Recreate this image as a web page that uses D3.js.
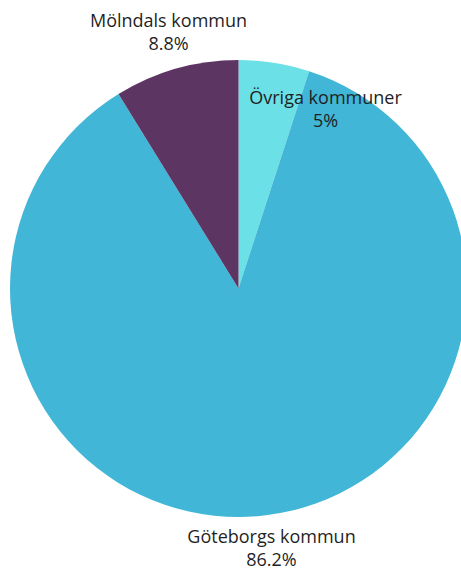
<!DOCTYPE html>
<html>
<head>
<meta charset="utf-8">
<script src="https://cdn.jsdelivr.net/npm/d3@7"></script>
<style>
  html, body { margin: 0; padding: 0; background: #ffffff; }
  svg { display: block; }
  text { font-family: "Open Sans", "Noto Sans", sans-serif; fill: #1f1f1f; }
</style>
</head>
<body>
<svg id="chart" width="461" height="572"></svg>
<script>
// Share of residents by municipality (percent)
const categories = ["Övriga kommuner", "Göteborgs kommun", "Mölndals kommun"];
const values = [5, 86.2, 8.8];
const valueLabels = ["5%", "86.2%", "8.8%"];
const colors = ["#6be0e7", "#41b6d6", "#5d3563"];

const width = 461, height = 572;
const cx = 238.5, cy = 288.5, radius = 228.5;

// Label anchor for each slice, relative to the pie centre
const labelAnchors = [
  { dx: 87, dy: -185 },
  { dx: 33, dy: 254 },
  { dx: -70, dy: -262 }
];

const svg = d3.select("#chart");
const g = svg.append("g").attr("transform", `translate(${cx},${cy})`);

const pie = d3.pie().sort(null).value(d => d.value);
const arc = d3.arc().innerRadius(0).outerRadius(radius);

const data = categories.map((c, i) => ({ name: c, value: values[i], label: valueLabels[i], color: colors[i], anchor: labelAnchors[i] }));
const arcs = pie(data);

g.selectAll("path.slice")
  .data(arcs)
  .join("path")
  .attr("class", "slice")
  .attr("d", arc)
  .attr("fill", d => d.data.color);

const labels = g.selectAll("g.label")
  .data(arcs)
  .join("g")
  .attr("class", "label")
  .attr("transform", d => `translate(${d.data.anchor.dx},${d.data.anchor.dy})`);

labels.append("text")
  .attr("text-anchor", "middle")
  .attr("font-size", 18)
  .text(d => d.data.name);

labels.append("text")
  .attr("text-anchor", "middle")
  .attr("font-size", 18)
  .attr("y", 23.5)
  .text(d => d.data.label);
</script>
</body>
</html>
